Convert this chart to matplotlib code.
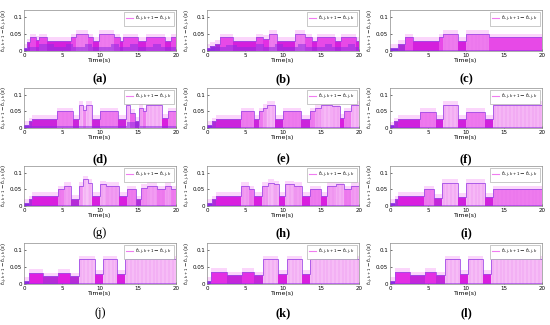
import numpy as np
import matplotlib
matplotlib.use('Agg')
import matplotlib.pyplot as plt
from matplotlib.colors import LinearSegmentedColormap, Normalize
from matplotlib.lines import Line2D

# step data per panel: segment edges (s) and inter-event times (s)
edges_a = [0, 0.4, 0.8, 1.6, 2.0, 3.0, 6.2, 6.9, 8.4, 9.1, 9.9, 11.9, 12.6, 13.0, 15.0, 16.0, 18.6, 19.4, 20]
vals_a = [0.010, 0.025, 0.040, 0.032, 0.040, 0.029, 0.040, 0.050, 0.040, 0.029, 0.050, 0.040, 0.029, 0.040, 0.029, 0.040, 0.029, 0.040]
band_edges_a = [0, 0.4, 2.0, 4.0, 5.5, 6.5, 8.0, 9.0, 11.5, 12.5, 14.0, 15.0, 17.0, 18.0, 20]
band_vals_a = [0.008, 0.012, 0.020, 0.012, 0.020, 0.012, 0.020, 0.012, 0.020, 0.012, 0.020, 0.012, 0.020, 0.012]

edges_b = [0, 0.4, 1.0, 1.7, 3.4, 6.4, 7.4, 8.1, 9.2, 11.6, 12.9, 13.8, 14.5, 16.9, 17.6, 19.6, 20]
vals_b = [0.010, 0.015, 0.020, 0.040, 0.029, 0.040, 0.035, 0.050, 0.029, 0.050, 0.040, 0.029, 0.040, 0.029, 0.040, 0.029]
band_edges_b = [0, 1.0, 2.5, 4.0, 6.5, 7.5, 9.0, 10.0, 12.0, 13.0, 15.5, 16.5, 18.5, 19.5, 20]
band_vals_b = [0.008, 0.012, 0.018, 0.012, 0.020, 0.012, 0.020, 0.012, 0.020, 0.012, 0.020, 0.012, 0.020, 0.012]

edges_c = [0, 1, 2, 3, 6.5, 7, 9, 10, 13, 20]
vals_c = [0.010, 0.020, 0.040, 0.029, 0.040, 0.050, 0.029, 0.050, 0.040]

edges_d = [0, 0.6, 1.0, 4.4, 6.4, 7.2, 7.8, 8.2, 9.0, 10.0, 12.4, 13.4, 14.0, 14.6, 15.1, 15.6, 16.0, 18.2, 19.0, 20]
vals_d = [0.010, 0.020, 0.027, 0.050, 0.027, 0.070, 0.055, 0.070, 0.027, 0.050, 0.027, 0.070, 0.045, 0.022, 0.060, 0.050, 0.070, 0.030, 0.050]
band_edges_d = [0, 13.6, 15.2, 20]
band_vals_d = [0.005, 0.018, 0.005]

edges_e = [0, 0.6, 1.2, 4.5, 6.2, 6.8, 7.4, 7.9, 9.0, 10.0, 12.4, 13.5, 14.2, 15.0, 16.5, 17.5, 18.0, 19.0, 20]
vals_e = [0.010, 0.020, 0.027, 0.050, 0.027, 0.050, 0.060, 0.070, 0.027, 0.050, 0.027, 0.050, 0.060, 0.070, 0.065, 0.030, 0.050, 0.070]

edges_f = [0, 0.5, 1, 4, 6, 7, 9, 10, 12.5, 13.5, 20]
vals_f = [0.008, 0.020, 0.028, 0.049, 0.028, 0.069, 0.028, 0.049, 0.028, 0.069]

edges_g = [0, 0.6, 1.0, 4.5, 5.2, 6.2, 7.2, 7.8, 8.4, 9.0, 10.0, 10.8, 12.5, 13.5, 14.8, 15.4, 16.2, 17.5, 18.5, 19.3, 20]
vals_g = [0.010, 0.020, 0.030, 0.050, 0.060, 0.022, 0.060, 0.080, 0.070, 0.030, 0.065, 0.060, 0.030, 0.050, 0.020, 0.055, 0.060, 0.050, 0.060, 0.050]

edges_h = [0, 0.6, 1.2, 4.5, 5.5, 6.2, 7.2, 8.0, 8.8, 9.5, 10.2, 11.5, 12.5, 13.5, 15.0, 15.8, 17.0, 18.0, 19.0, 20]
vals_h = [0.010, 0.020, 0.030, 0.060, 0.050, 0.030, 0.060, 0.070, 0.065, 0.030, 0.065, 0.060, 0.030, 0.050, 0.030, 0.060, 0.065, 0.050, 0.060]

edges_i = [0, 0.6, 1.0, 4.5, 5.8, 6.8, 9.0, 10.0, 12.5, 13.5, 20]
vals_i = [0.010, 0.020, 0.030, 0.050, 0.025, 0.070, 0.028, 0.070, 0.028, 0.050]

edges_j = [0, 0.7, 2.5, 4.5, 6.0, 7.2, 9.3, 10.4, 12.3, 13.3, 20]
vals_j = [0.010, 0.032, 0.022, 0.032, 0.022, 0.072, 0.030, 0.072, 0.030, 0.072]

edges_k = [0, 0.5, 2.6, 4.6, 6.2, 7.4, 9.4, 10.5, 12.5, 13.6, 20]
vals_k = [0.010, 0.035, 0.025, 0.035, 0.025, 0.072, 0.030, 0.072, 0.030, 0.072]

edges_l = [0, 0.6, 2.6, 4.6, 6.1, 7.3, 9.2, 10.3, 12.3, 13.3, 20]
vals_l = [0.010, 0.035, 0.025, 0.035, 0.025, 0.072, 0.030, 0.072, 0.030, 0.072]

flat_band_edges = [0, 20]
flat_band_vals = [0.004]

panel_labels = ['(a)', '(b)', '(c)', '(d)', '(e)', '(f)',
                '(g)', '(h)', '(i)', '(j)', '(k)', '(l)']

panels = [
    (edges_a, vals_a, band_edges_a, band_vals_a),
    (edges_b, vals_b, band_edges_b, band_vals_b),
    (edges_c, vals_c, flat_band_edges, flat_band_vals),
    (edges_d, vals_d, band_edges_d, band_vals_d),
    (edges_e, vals_e, flat_band_edges, flat_band_vals),
    (edges_f, vals_f, flat_band_edges, flat_band_vals),
    (edges_g, vals_g, flat_band_edges, flat_band_vals),
    (edges_h, vals_h, flat_band_edges, flat_band_vals),
    (edges_i, vals_i, flat_band_edges, flat_band_vals),
    (edges_j, vals_j, flat_band_edges, flat_band_vals),
    (edges_k, vals_k, flat_band_edges, flat_band_vals),
    (edges_l, vals_l, flat_band_edges, flat_band_vals),
]

cmap = LinearSegmentedColormap.from_list(
    'pinks', [(0.0, '#8A2BE2'), (0.18, '#B42CD6'), (0.33, '#E01CE0'),
              (0.6, '#EE78EE'), (0.85, '#F4AEF4'), (1.0, '#F7C2F7')])
norm = Normalize(0.01, 0.075)

ylab = r'$t_{i,j,k+1}-t_{i,j,k}\,(s)$'
leg_txt = r'$t_{i,j,k+1}-t_{i,j,k}$'

fig = plt.figure(figsize=(5.5, 3.25), dpi=100)

col_left = [24, 207, 390]
row_span = [(10, 51), (88, 128), (166, 206), (243, 284)]
label_y = [79, 159, 233, 313]

for n, (edges, vals, bedges, bvals) in enumerate(panels):
    r, c = divmod(n, 3)
    top, bot = row_span[r]
    ax = fig.add_axes([col_left[c] / 550, 1 - bot / 325, 152 / 550, (bot - top) / 325])
    e = np.array(edges)
    v = np.array(vals)
    w = np.diff(e)

    # faint halo above steps
    ax.bar(e[:-1], v + 0.011, width=w, align='edge', color='#FBD6FB',
           linewidth=0, zorder=1)
    # main filled steps
    ax.bar(e[:-1], v, width=w, align='edge', color=cmap(norm(v)),
           linewidth=0, zorder=2)
    # sample stems in long-interval segments
    for x0, x1, h in zip(e[:-1], e[1:], v):
        if h > 0.045:
            xs = np.arange(x0 + 0.25, x1, 0.5)
            ax.vlines(xs, 0, h, color='#E46CEA', linewidth=0.3, alpha=0.7, zorder=3)
    # lower purple band
    be = np.array(bedges)
    ax.bar(be[:-1], bvals, width=np.diff(be), align='edge', color='#8E2DE2',
           alpha=0.55, linewidth=0, zorder=3)
    ax.stairs(v, e, baseline=None, color='#A14DE6', linewidth=0.6, zorder=4)

    ax.set_xlim(0, 20)
    ax.set_ylim(0, 0.12)
    ax.set_xticks([0, 5, 10, 15, 20])
    ax.set_yticks([0, 0.05, 0.1])
    ax.set_yticklabels(['0', '0.05', '0.1'])
    ax.tick_params(direction='in', length=1.5, width=0.4, labelsize=4, pad=1.2)
    for s in ax.spines.values():
        s.set_linewidth(0.5)
        s.set_color('#8C8C8C')
    ax.set_xlabel('Time(s)', fontsize=4.5, labelpad=0.5)
    ax.set_ylabel(ylab, fontsize=3.8, labelpad=0.3)

    handle = Line2D([], [], color='#F07CF0', linewidth=0.8)
    ax.legend([handle], [leg_txt], loc='upper right', fontsize=4,
              handlelength=1.2, handletextpad=0.4, borderpad=0.3,
              borderaxespad=0.4, fancybox=False, framealpha=1,
              edgecolor='#A0A0A0').get_frame().set_linewidth(0.4)

    weight = 'normal' if panel_labels[n] in ('(g)', '(j)') else 'bold'
    fig.text((col_left[c] + 76) / 550, 1 - label_y[r] / 325, panel_labels[n],
             ha='center', va='center', fontsize=9, fontweight=weight,
             family='Liberation Serif')

fig.savefig('out.png', dpi=100)
